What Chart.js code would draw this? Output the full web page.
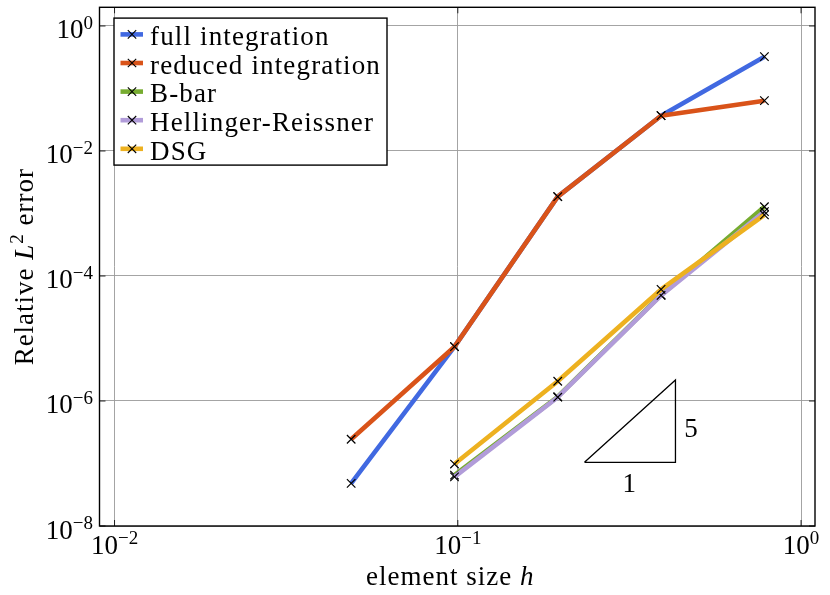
<!DOCTYPE html>
<html><head><meta charset="utf-8">
<script src="https://cdn.jsdelivr.net/npm/chart.js@4"></script>
<style>html,body{margin:0;padding:0;background:#fff;} #wrap{width:830px;height:595px;position:relative}</style>
</head><body><div id="wrap"><canvas id="c"></canvas></div>
<script>
// ---- data ----
const hValues = [0.0489, 0.0978, 0.1955, 0.391, 0.782];
const seriesNames = ['full integration', 'reduced integration', 'B-bar', 'Hellinger-Reissner', 'DSG'];
const fullIntegration = [4.82e-8, 7.4e-6, 1.86e-3, 0.0367, 0.323];
const reducedIntegration = [2.44e-7, 7.4e-6, 1.86e-3, 0.0367, 0.0638];
const bBar = [null, 6.5e-8, 1.17e-6, 4.97e-5, 1.28e-3];
const hellingerReissner = [null, 6.1e-8, 1.15e-6, 4.9e-5, 1.07e-3];
const dsg = [null, 9.8e-8, 2.07e-6, 6.1e-5, 9.5e-4];
const xTickValues = [1e-2, 1e-1, 1e0];
const yTickValues = [1e-8, 1e-6, 1e-4, 1e-2, 1e0];
const slopeTriangleX = [0.2339, 0.4306, 0.4306, 0.2339];
const slopeTriangleY = [1.045e-7, 1.045e-7, 2.17e-6, 1.045e-7];
const slopeLabelText = ['5', '1'];
const slopeLabelX = [0.478, 0.3157];
const slopeLabelY = [3.77e-7, 4.97e-8];
const xAxisTitle = ['element size ', 'h'];
const yAxisTitle = ['Relative ', 'L', '2', ' error'];

// ---- styles ----
const seriesColors = ['#4169E1', '#D95319', '#77AC30', '#B19CD9', '#EDB120'];
const seriesValues = [fullIntegration, reducedIntegration, bBar, hellingerReissner, dsg];
const FONT = '"Liberation Serif", "Times New Roman", serif';

function pts(vals) {
  return hValues.map((h, i) => ({x: h, y: vals[i]})).filter(p => p.y !== null);
}

const datasets = seriesNames.map((name, i) => ({
  label: name,
  data: pts(seriesValues[i]),
  borderColor: seriesColors[i],
  backgroundColor: seriesColors[i],
  borderWidth: 4.6,
  borderJoinStyle: 'round',
  borderCapStyle: 'butt',
  tension: 0,
  fill: false,
  pointStyle: 'crossRot',
  pointRadius: 6,
  pointBorderColor: '#000',
  pointBorderWidth: 1.2,
  pointHoverRadius: 6,
  order: seriesNames.length - i + 1
}));
datasets.push({
  label: '__slope',
  data: slopeTriangleX.map((x, i) => ({x: x, y: slopeTriangleY[i]})),
  borderColor: '#000',
  borderWidth: 1.3,
  borderJoinStyle: 'miter',
  pointRadius: 0,
  tension: 0,
  fill: false,
  order: 0
});

function fontStr(p) {
  return (p.italic ? 'italic ' : '') + p.size + 'px ' + FONT;
}
function drawRich(ctx, parts, x, y, align, spacing) {
  ctx.letterSpacing = (spacing || 0) + 'px';
  let total = 0;
  const widths = parts.map(p => { ctx.font = fontStr(p); const w = ctx.measureText(p.t).width; total += w; return w; });
  let cx = align === 'center' ? x - total / 2 : align === 'right' ? x - total : x;
  ctx.textAlign = 'left';
  ctx.textBaseline = 'alphabetic';
  parts.forEach((p, i) => { ctx.font = fontStr(p); ctx.fillText(p.t, cx, y + (p.dy || 0)); cx += widths[i]; });
  ctx.letterSpacing = '0px';
}
function expParts(v) {
  const e = Math.round(Math.log10(v));
  return [{t: '10', size: 27}, {t: (e < 0 ? '\u2212' : '') + Math.abs(e), size: 19, dy: -9.5}];
}

const decorPlugin = {
  id: 'decor',
  afterDatasetsDraw(chart) {
    const ctx = chart.ctx, a = chart.chartArea;
    const xs = chart.scales.x, ys = chart.scales.y;
    ctx.save();
    // tick marks
    ctx.strokeStyle = '#222';
    ctx.lineWidth = 1;
    ctx.beginPath();
    xTickValues.forEach(v => {
      const px = xs.getPixelForValue(v);
      ctx.moveTo(px, a.bottom); ctx.lineTo(px, a.bottom - 6);
      ctx.moveTo(px, a.top); ctx.lineTo(px, a.top + 6);
    });
    yTickValues.forEach(v => {
      const py = ys.getPixelForValue(v);
      ctx.moveTo(a.left, py); ctx.lineTo(a.left + 6, py);
      ctx.moveTo(a.right, py); ctx.lineTo(a.right - 6, py);
    });
    ctx.stroke();
    // frame
    ctx.strokeStyle = '#000';
    ctx.lineWidth = 1.4;
    ctx.strokeRect(a.left, a.top, a.right - a.left, a.bottom - a.top);
    ctx.fillStyle = '#000';
    // tick labels
    xTickValues.forEach(v => drawRich(ctx, expParts(v), xs.getPixelForValue(v), a.bottom + 27.5, 'center'));
    yTickValues.forEach(v => drawRich(ctx, expParts(v), a.left - 6.5, ys.getPixelForValue(v) + 12.5, 'right'));
    // slope labels
    slopeLabelText.forEach((t, i) => {
      ctx.font = '27px ' + FONT;
      ctx.textAlign = 'center';
      ctx.textBaseline = 'alphabetic';
      ctx.fillText(t, xs.getPixelForValue(slopeLabelX[i]), ys.getPixelForValue(slopeLabelY[i]) + 9.2);
    });
    // axis titles
    drawRich(ctx, [{t: xAxisTitle[0], size: 27}, {t: xAxisTitle[1], size: 27, italic: true}],
      (a.left + a.right) / 2 - 7, a.bottom + 59, 'center', 1.0);
    ctx.save();
    ctx.translate(33, (a.top + a.bottom) / 2);
    ctx.rotate(-Math.PI / 2);
    drawRich(ctx, [{t: yAxisTitle[0], size: 27}, {t: yAxisTitle[1], size: 27, italic: true},
      {t: yAxisTitle[2], size: 19, dy: -10}, {t: yAxisTitle[3], size: 27}], 0, 0, 'center', 1.0);
    ctx.restore();
    // legend
    const lx = a.left + 14.5, ly = a.top + 10.8, lw = 273, lh = 147;
    ctx.fillStyle = '#fff';
    ctx.fillRect(lx, ly, lw, lh);
    ctx.strokeStyle = '#000';
    ctx.lineWidth = 1.4;
    ctx.strokeRect(lx, ly, lw, lh);
    seriesNames.forEach((name, i) => {
      const yc = ly + 16.3 + i * 28.6;
      ctx.strokeStyle = seriesColors[i];
      ctx.lineWidth = 4.6;
      ctx.beginPath(); ctx.moveTo(lx + 6.5, yc); ctx.lineTo(lx + 29, yc); ctx.stroke();
      ctx.strokeStyle = '#000';
      ctx.lineWidth = 1.1;
      const r = 4.2, cx = lx + 18;
      ctx.beginPath();
      ctx.moveTo(cx - r, yc - r); ctx.lineTo(cx + r, yc + r);
      ctx.moveTo(cx - r, yc + r); ctx.lineTo(cx + r, yc - r);
      ctx.stroke();
      ctx.fillStyle = '#000';
      drawRich(ctx, [{t: name, size: 27}], lx + 36, yc + 10.7, 'left', 1.15);
    });
    ctx.restore();
  }
};

new Chart(document.getElementById('c'), {
  type: 'line',
  data: {datasets: datasets},
  plugins: [decorPlugin],
  options: {
    responsive: true,
    maintainAspectRatio: false,
    animation: false,
    events: [],
    layout: {padding: {left: 99.5, right: 15, top: 7.3, bottom: 69}},
    plugins: {legend: {display: false}, tooltip: {enabled: false}},
    scales: {
      x: {
        type: 'logarithmic', min: 0.00904, max: 1.098,
        grid: {color: '#9a9a9a', lineWidth: 0.9, drawTicks: false},
        border: {display: false},
        ticks: {display: false},
        afterBuildTicks: s => { s.ticks = xTickValues.map(v => ({value: v})); }
      },
      y: {
        type: 'logarithmic', min: 1e-8, max: 1.99,
        grid: {color: '#9a9a9a', lineWidth: 0.9, drawTicks: false},
        border: {display: false},
        ticks: {display: false},
        afterBuildTicks: s => { s.ticks = yTickValues.map(v => ({value: v})); }
      }
    }
  }
});
</script>
</body></html>
